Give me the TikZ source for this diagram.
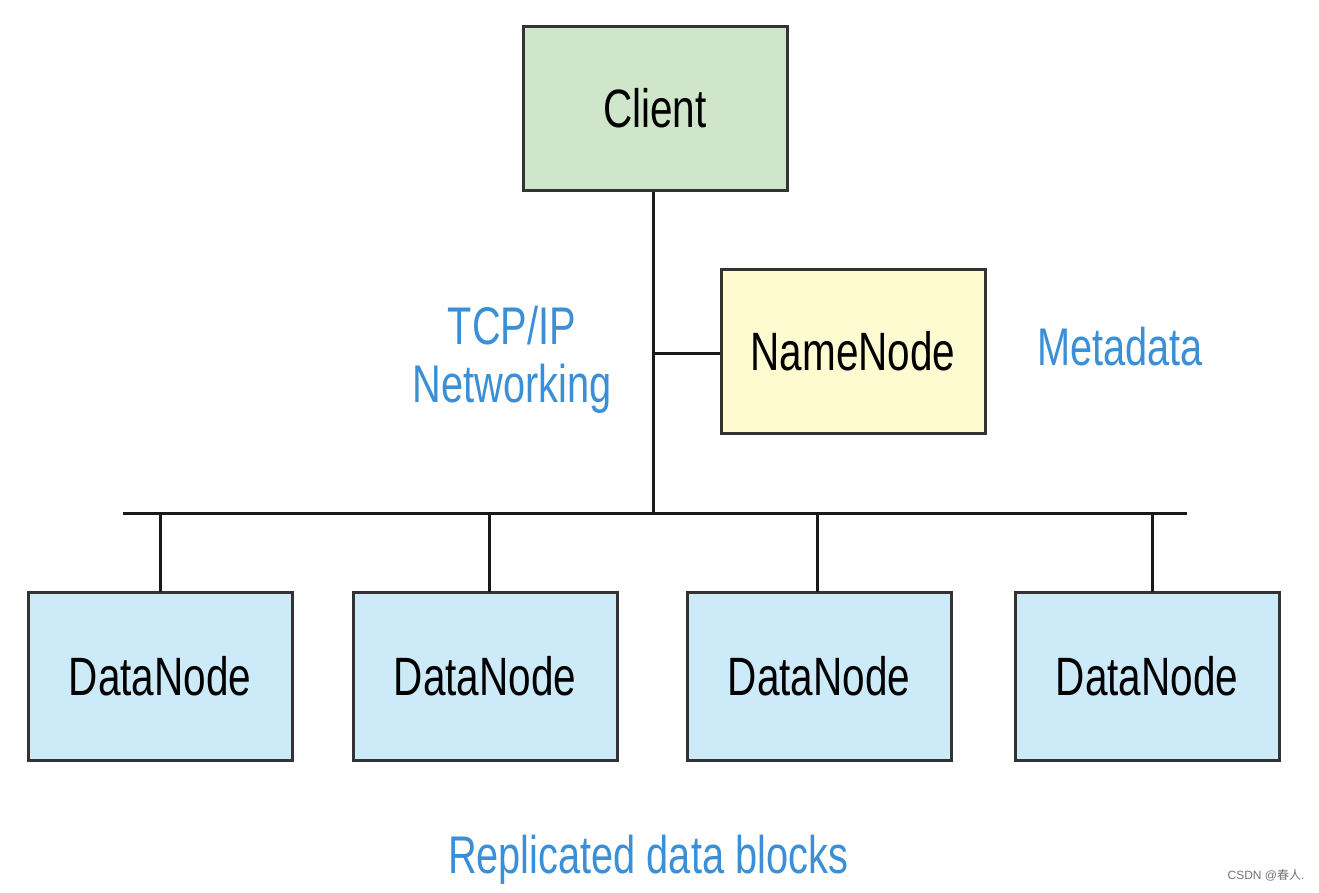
\documentclass[tikz,border=0pt]{standalone}
\usepackage{fontspec}
\setmainfont[FakeStretch=0.75]{Liberation Sans}
\newfontfamily\wmfont{Liberation Sans}
\newfontfamily\cjk{Noto Sans CJK SC}
\definecolor{clientfill}{HTML}{CFE6CA}
\definecolor{namefill}{HTML}{FFFBD0}
\definecolor{datafill}{HTML}{CCEAF8}
\definecolor{labelblue}{HTML}{3A8FD6}
\definecolor{edge}{HTML}{333333}
\begin{document}
\begin{tikzpicture}[x=1pt,y=-1pt,
  box/.style={draw=edge,line width=3pt,minimum width=264pt,minimum height=164pt,inner sep=0pt,font=\fontsize{54}{60}\selectfont},
  lbl/.style={text=labelblue,font=\fontsize{53}{60}\selectfont,align=center},
  wire/.style={draw=black!90,line width=3pt}]
\useasboundingbox (0,0) rectangle (1319,892);
\node[box,fill=clientfill] (client) at (655,108) {Client};
\node[box,fill=namefill] (name) at (853,351) {NameNode};
\foreach \i/\x in {1/160,2/485,3/819,4/1147}{
  \node[box,fill=datafill,minimum height=168pt] (d\i) at (\x,676) {DataNode};
}
\coordinate (busL) at (123,513);
\coordinate (busR) at (1187,513);
\coordinate (busC) at (653,513);
\coordinate (nj) at (653,353);
\draw[wire] (client.south -| busC) -- (busC);
\draw[wire] (nj) -- (nj -| name.west);
\draw[wire] (busL) -- (busR);
\foreach \i/\x in {1/160,2/489,3/817,4/1152}{
  \draw[wire] (\x,513) -- (\x,592);
}
\node[lbl] (tcp) at (512,360) {TCP/IP\\[-2pt]Networking};
\node[lbl] (meta) at (1120,347) {Metadata};
\node[lbl] (rep) at (648,860) {Replicated data blocks};
\node[text=black!55,font=\wmfont\fontsize{12}{14}\selectfont,inner sep=0pt] (wm) at (1266,875) {CSDN @{\cjk 春人}.};
\end{tikzpicture}
\end{document}
